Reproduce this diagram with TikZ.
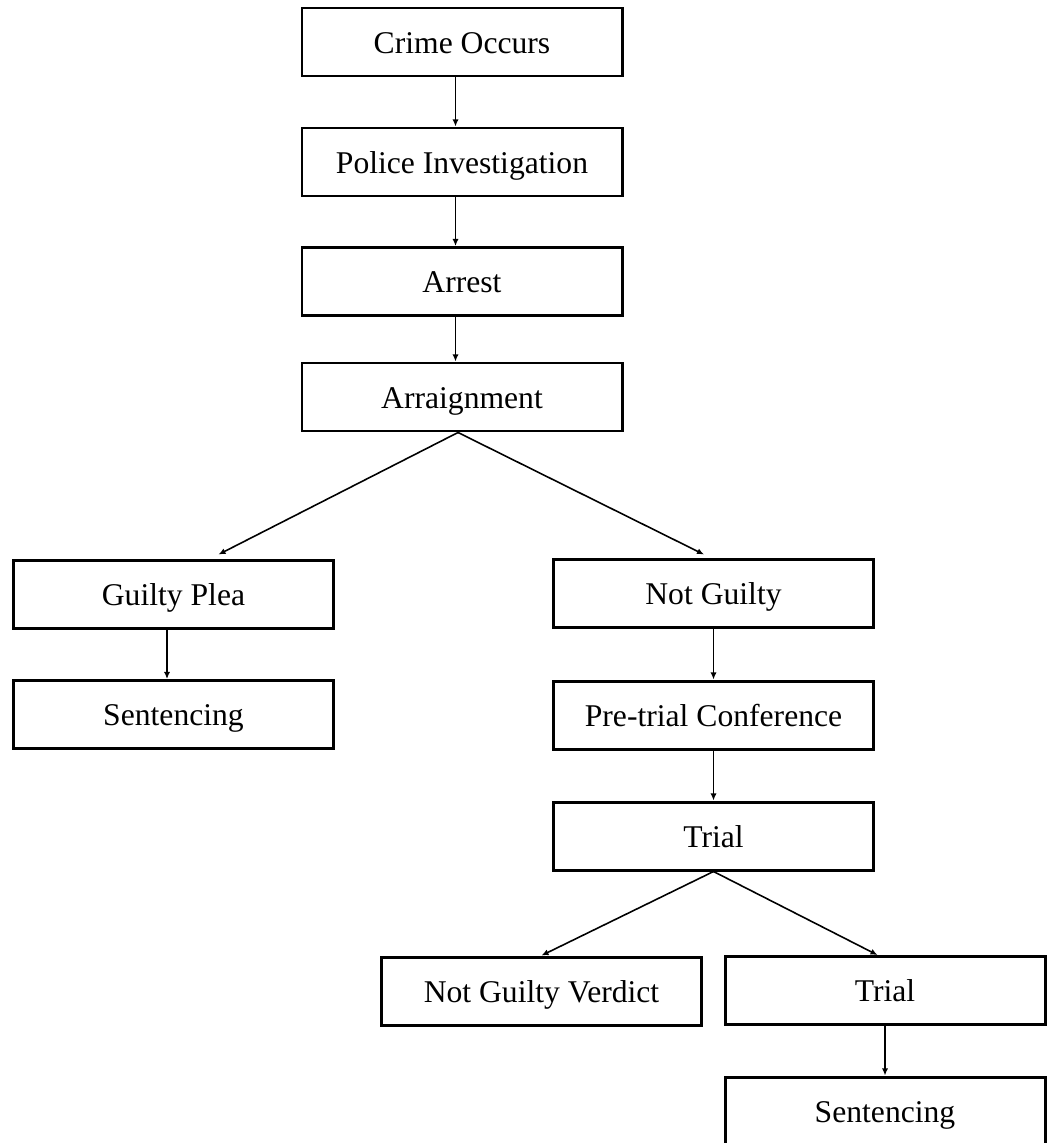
\documentclass[tikz,border=0pt]{standalone}
\usepackage{fontspec}
\setmainfont{Liberation Serif}
\usetikzlibrary{arrows.meta}

\tikzset{
    stage/.style={draw, line width=1.7pt, minimum width=6.4cm, minimum height=1.36cm,
                  inner sep=0pt, text height=14pt, text depth=1.4pt,
                  font=\fontsize{18}{21.6}\selectfont},
    flow/.style={line width=0.9pt, -{Latex[length=4pt, width=3.5pt]}}
}

\begin{document}
\begin{tikzpicture}
    \clip (0,0) rectangle (20.94,-22.86);
    \node[stage] (crime)     at ( 9.24, -0.84) {Crime Occurs};
    \node[stage] (police)    at ( 9.24, -3.24) {Police Investigation};
    \node[stage] (arrest)    at ( 9.24, -5.63) {Arrest};
    \node[stage] (arraign)   at ( 9.24, -7.94) {Arraignment};
    \node[stage] (guilty)    at ( 3.47,-11.88) {Guilty Plea};
    \node[stage] (sentleft)  at ( 3.47,-14.29) {Sentencing};
    \node[stage] (notguilty) at (14.27,-11.86) {Not Guilty};
    \node[stage] (pretrial)  at (14.27,-14.30) {Pre-trial Conference};
    \node[stage] (trial)     at (14.27,-16.72) {Trial};
    \node[stage] (verdict)   at (10.83,-19.82) {Not Guilty Verdict};
    \node[stage] (trialtwo)  at (17.70,-19.81) {Trial};
    \node[stage] (sentright) at (17.70,-22.22) {Sentencing};
    % main line
    \draw[flow] ([xshift=-0.13cm]crime.south)  -- ([xshift=-0.13cm]police.north);
    \draw[flow] ([xshift=-0.13cm]police.south) -- ([xshift=-0.13cm]arrest.north);
    \draw[flow] ([xshift=-0.13cm]arrest.south) -- ([xshift=-0.13cm]arraign.north);
    % plea
    \draw[flow] ([xshift=-0.08cm]arraign.south) -- ([xshift=0.9cm, yshift=0.08cm]guilty.north);
    \draw[flow] ([xshift=-0.08cm]arraign.south) -- ([xshift=-0.19cm, yshift=0.06cm]notguilty.north);
    \draw[flow] ([xshift=-0.13cm]guilty.south) -- ([xshift=-0.13cm]sentleft.north);
    \draw[flow] (notguilty) -- (pretrial);
    \draw[flow] (pretrial) -- (trial);
    % verdict
    \draw[flow] (trial.south) -- (verdict.north);
    \draw[flow] (trial.south) -- ([xshift=-0.15cm]trialtwo.north);
    \draw[flow] (trialtwo) -- (sentright);
\end{tikzpicture}
\end{document}
